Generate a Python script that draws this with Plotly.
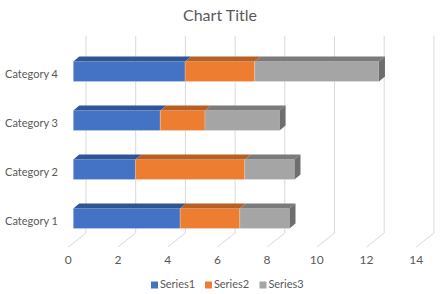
import plotly.graph_objects as go

# ---- data ----
categories = ["Category 1", "Category 2", "Category 3", "Category 4"]
series_names = ["Series1", "Series2", "Series3"]
series1 = [4.3, 2.5, 3.5, 4.5]
series2 = [2.4, 4.4, 1.8, 2.8]
series3 = [2, 2, 3, 5]
x_ticks = [0, 2, 4, 6, 8, 10, 12, 14]
title_text = "Chart Title"

series_values = [series1, series2, series3]
front_colors = ["#4472C4", "#ED7D31", "#A5A5A5"]
top_colors = ["#2F5597", "#B85F24", "#7B7B7B"]
end_color = "#6E6E6E"
text_color = "#595959"
grid_color = "#D9D9D9"
FONT = "Lato"

# ---- layout geometry (pixels) ----
W, H = 440, 294
X0, SX = 73.3, 24.85      # px of value 0 on the front plane, px per unit
Y0, SY = 218.5, 49.0      # px of Category 1 centre, px per category
BAR_H = 20.0
DEPTH_X, DEPTH_Y = 6.0, 5.0


def vy(py):
    return (Y0 - py) / SY


def ux(px):
    return px / SX


xr = [-X0 / SX, (W - X0) / SX]
yr = [vy(H), vy(0)]

fig = go.Figure()


def poly(xs, ys_, color, line_color=None, lw=0):
    fig.add_trace(go.Scatter(
        x=xs + [xs[0]], y=ys_ + [ys_[0]], fill="toself", fillcolor=color,
        mode="lines", line=dict(width=lw, color=line_color or color),
        showlegend=False, hoverinfo="skip"))


# gridlines: back wall vertical, then slanted floor segment
g_back = ux(86 - X0)
g_front = ux(68.3 - X0)
gx, gy = [], []
for v in x_ticks:
    gx += [v + g_back, v + g_back, v + g_front, None]
    gy += [vy(36), vy(233), vy(247), None]
fig.add_trace(go.Scatter(x=gx, y=gy, mode="lines",
                         line=dict(color=grid_color, width=1),
                         showlegend=False, hoverinfo="skip"))

ys = list(range(len(categories)))
half = BAR_H / 2 / SY
ddx, ddy = ux(DEPTH_X), DEPTH_Y / SY

# segments (stacked)
bases = [0.0] * len(categories)
segments = []
for s, vals in enumerate(series_values):
    segments.append([(bases[i], bases[i] + vals[i]) for i in range(len(vals))])
    bases = [bases[i] + vals[i] for i in range(len(vals))]

for i in ys:
    t, bo = i + half, i - half
    for s in range(len(series_values)):
        a, b = segments[s][i]
        # front face
        poly([a, b, b, a], [bo, bo, t, t], front_colors[s],
             "rgba(255,255,255,0.35)", 0.6)
        # top face
        poly([a, b, b + ddx, a + ddx], [t, t, t + ddy, t + ddy], top_colors[s])
    # right end face
    e = bases[i]
    poly([e, e + ddx, e + ddx, e], [t, t + ddy, bo + ddy, bo], end_color)

# x tick labels
fig.add_trace(go.Scatter(
    x=[v + g_front for v in x_ticks], y=[vy(261)] * len(x_ticks),
    mode="text", text=[str(v) for v in x_ticks],
    textfont=dict(family=FONT, size=12, color=text_color),
    showlegend=False, hoverinfo="skip"))

# category labels
fig.add_trace(go.Scatter(
    x=[ux(58 - X0)] * len(categories), y=[i - 4 / SY for i in ys],
    mode="text", text=categories, textposition="middle left",
    textfont=dict(family=FONT, size=11, color=text_color),
    showlegend=False, hoverinfo="skip"))

# legend (custom)
leg_px = [154.5, 208.5, 263.0]
for s, name in enumerate(series_names):
    fig.add_trace(go.Scatter(
        x=[ux(leg_px[s] - X0)], y=[vy(285)], mode="markers+text",
        marker=dict(symbol="square", size=7, color=front_colors[s]),
        text=[name], textposition="middle right",
        textfont=dict(family=FONT, size=11, color=text_color),
        showlegend=False, hoverinfo="skip"))

fig.add_annotation(x=0.5, y=1 - 15 / H, xref="paper", yref="paper",
                   text=title_text, showarrow=False, yanchor="middle",
                   font=dict(family=FONT, size=16, color=text_color))

fig.update_layout(
    width=W, height=H, autosize=False,
    margin=dict(l=0, r=0, t=0, b=0, pad=0),
    paper_bgcolor="white", plot_bgcolor="white",
    xaxis=dict(range=xr, visible=False, fixedrange=True, domain=[0, 1]),
    yaxis=dict(range=yr, visible=False, fixedrange=True, domain=[0, 1]),
    showlegend=False,
)

fig.write_html("out.html", config={"displayModeBar": False, "staticPlot": True})
